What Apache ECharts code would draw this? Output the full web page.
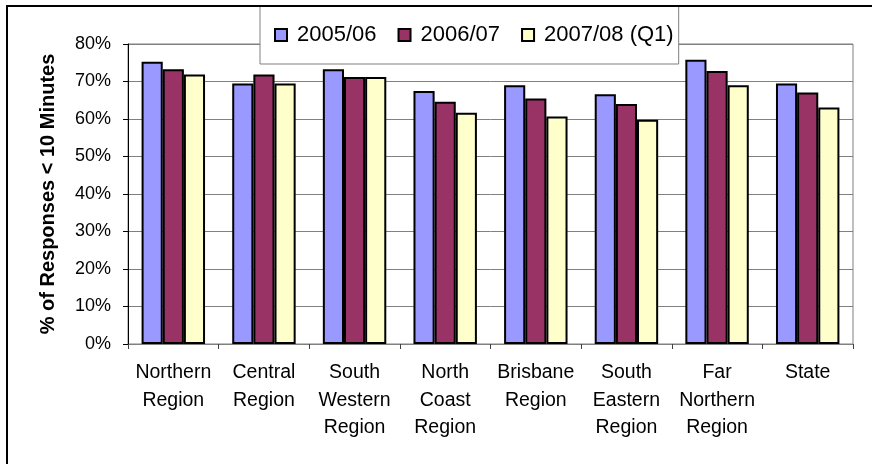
<!DOCTYPE html>
<html>
<head>
<meta charset="utf-8">
<script src="https://cdn.jsdelivr.net/npm/echarts@6/dist/echarts.min.js"></script>
<style>
  html, body { margin: 0; padding: 0; background: #fff; }
  #chart { width: 872px; height: 464px; }
</style>
</head>
<body>
<div id="chart"></div>
<script>
// Regions shown along the category axis
const regions = [
  'Northern\nRegion',
  'Central\nRegion',
  'South\nWestern\nRegion',
  'North\nCoast\nRegion',
  'Brisbane\nRegion',
  'South\nEastern\nRegion',
  'Far\nNorthern\nRegion',
  'State'
];

// Share of responses under 10 minutes, per period (%)
const y2005_06 = [75.3, 69.5, 73.3, 67.5, 69.0, 66.6, 75.8, 69.5];
const y2006_07 = [73.3, 71.9, 71.2, 64.6, 65.5, 64.0, 72.8, 67.1];
const y2007_08q1 = [71.9, 69.5, 71.2, 61.7, 60.7, 59.8, 69.0, 63.1];

const periodNames = ['2005/06', '2006/07', '2007/08 (Q1)'];
const periodColors = ['#9999FF', '#993366', '#FFFFCC'];
const periodValues = [y2005_06, y2006_07, y2007_08q1];

const FONT = 'Liberation Sans, Arial, sans-serif';

const chart = echarts.init(document.getElementById('chart'), null, { renderer: 'canvas' });

chart.setOption({
  animation: false,
  backgroundColor: '#ffffff',
  textStyle: { fontFamily: FONT, color: '#000' },
  grid: {
    left: 128, right: 19, top: 44, bottom: 120,
    show: true,
    borderColor: '#808080',
    borderWidth: 1,
    backgroundColor: 'transparent'
  },
  legend: {
    left: 260,
    top: 6,
    padding: [18, 5, 18, 14],
    backgroundColor: '#ffffff',
    borderColor: '#808080',
    borderWidth: 1,
    borderRadius: 0,
    itemWidth: 12,
    itemHeight: 12,
    itemGap: 21,
    icon: 'rect',
    textStyle: { fontSize: 22, fontFamily: FONT, color: '#000', padding: [0, 0, 0, 5] },
    data: periodNames,
    z: 5
  },
  xAxis: {
    type: 'category',
    data: regions,
    axisLine: { lineStyle: { color: '#808080', width: 1 } },
    axisTick: { show: true, length: 5, alignWithLabel: false, lineStyle: { color: '#404040' } },
    axisLabel: {
      interval: 0,
      fontSize: 19.5,
      lineHeight: 27.5,
      margin: 15,
      color: '#000',
      fontFamily: FONT
    },
    splitLine: { show: false }
  },
  yAxis: {
    type: 'value',
    min: 0,
    max: 80,
    interval: 10,
    name: '% of Responses < 10 Minutes',
    nameLocation: 'middle',
    nameGap: 70,
    nameRotate: 90,
    nameTextStyle: { fontSize: 20, fontWeight: 'bold', color: '#000', fontFamily: FONT },
    axisLine: { show: true, lineStyle: { color: '#000', width: 1 } },
    axisTick: { show: true, length: 5, inside: false, lineStyle: { color: '#000' } },
    axisLabel: {
      formatter: '{value}%',
      fontSize: 18,
      margin: 17,
      color: '#000',
      fontFamily: FONT
    },
    splitLine: { show: true, lineStyle: { color: '#808080', width: 1 } }
  },
  series: periodNames.map((name, i) => ({
    name: name,
    type: 'bar',
    data: periodValues[i],
    barGap: '0%',
    barCategoryGap: '30%',
    itemStyle: {
      color: periodColors[i],
      borderColor: '#000',
      borderWidth: 2
    }
  })),
  graphic: [
    {
      type: 'rect',
      z: 100,
      silent: true,
      shape: { x: 7, y: 6, width: 900, height: 500 },
      style: { fill: 'none', stroke: '#000', lineWidth: 2 }
    }
  ]
});
</script>
</body>
</html>
